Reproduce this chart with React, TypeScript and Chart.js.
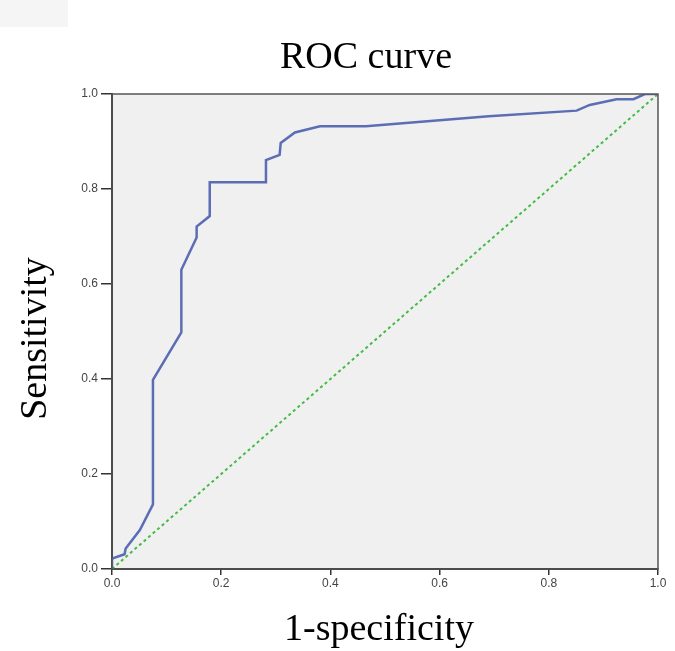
import React, { useEffect, useRef } from "react";
import { Chart, registerables } from "chart.js";

Chart.register(...registerables);

const titleText = "ROC curve";
const xTitle = "1-specificity";
const yTitle = "Sensitivity";

const rocX = [0, 0, 0.023, 0.025, 0.051, 0.075, 0.075, 0.127, 0.127, 0.155, 0.155, 0.179, 0.179, 0.282, 0.282, 0.307, 0.309, 0.335, 0.381, 0.465, 0.69, 0.851, 0.875, 0.924, 0.955, 0.976, 1.0];
const rocY = [0, 0.022, 0.031, 0.043, 0.082, 0.136, 0.398, 0.498, 0.63, 0.698, 0.721, 0.743, 0.814, 0.814, 0.861, 0.872, 0.897, 0.919, 0.932, 0.932, 0.953, 0.965, 0.977, 0.989, 0.989, 1.0, 1.0];

const refX = [0, 1];
const refY = [0, 1];

const tickValues = [0, 0.2, 0.4, 0.6, 0.8, 1.0];

export default function App() {
  const ref = useRef<HTMLCanvasElement | null>(null);

  useEffect(() => {
    if (!ref.current) return;
    const framePlugin = {
      id: "frame",
      beforeDraw(chart: any) {
        const { ctx, chartArea } = chart;
        ctx.save();
        ctx.fillStyle = "#f5f5f5";
        ctx.fillRect(0, 0, 68, 27);
        ctx.fillStyle = "#f0f0f0";
        ctx.fillRect(chartArea.left, chartArea.top, chartArea.right - chartArea.left, chartArea.bottom - chartArea.top);
        ctx.restore();
      },
      afterDraw(chart: any) {
        const { ctx, chartArea } = chart;
        ctx.save();
        ctx.strokeStyle = "#555";
        ctx.lineWidth = 1.5;
        ctx.strokeRect(chartArea.left, chartArea.top, chartArea.right - chartArea.left, chartArea.bottom - chartArea.top);

        const midX = (chartArea.left + chartArea.right) / 2;
        const midY = (chartArea.top + chartArea.bottom) / 2;
        ctx.fillStyle = "#000";
        ctx.font = "38px 'Liberation Serif'";
        ctx.textAlign = "center";
        ctx.textBaseline = "alphabetic";
        ctx.fillText(titleText, midX - 19, chartArea.top - 26);
        ctx.fillText(xTitle, midX - 6, chartArea.bottom + 71);
        ctx.translate(46, midY + 7);
        ctx.rotate(-Math.PI / 2);
        ctx.fillText(yTitle, 0, 0);
        ctx.restore();
      },
    };

    const chart = new Chart(ref.current, {
      type: "scatter",
      data: {
        datasets: [
          {
            label: "ROC",
            data: rocX.map((x, i) => ({ x, y: rocY[i] })),
            showLine: true,
            borderColor: "#5b6db5",
            borderWidth: 2.5,
            pointRadius: 0,
            tension: 0,
          },
          {
            label: "Reference",
            data: refX.map((x, i) => ({ x, y: refY[i] })),
            showLine: true,
            borderColor: "#44bb44",
            borderWidth: 2,
            borderDash: [3, 3],
            pointRadius: 0,
          },
        ],
      },
      options: {
        responsive: false,
        animation: false,
        devicePixelRatio: 1,
        layout: { padding: { left: 0, right: 17, top: 94, bottom: 0 } },
        plugins: {
          legend: { display: false },
          tooltip: { enabled: false },
          title: { display: false },
        },
        scales: {
          x: {
            type: "linear",
            min: 0,
            max: 1,
            afterFit(scale: any) {
              scale.height = 82;
            },
            afterBuildTicks(scale: any) {
              scale.ticks = tickValues.map((v) => ({ value: v }));
            },
            ticks: {
              color: "#444",
              padding: 1,
              font: { family: "Liberation Sans", size: 12 },
              callback: (v: any) => Number(v).toFixed(1),
              maxRotation: 0,
            },
            grid: { drawOnChartArea: false, drawTicks: true, tickLength: 6, color: "#333", lineWidth: 1.5 },
            border: { color: "#333", width: 2 },
          },
          y: {
            type: "linear",
            min: 0,
            max: 1,
            afterFit(scale: any) {
              scale.width = 112;
            },
            afterBuildTicks(scale: any) {
              scale.ticks = tickValues.map((v) => ({ value: v }));
            },
            ticks: {
              color: "#444",
              padding: 3,
              font: { family: "Liberation Sans", size: 12 },
              callback: (v: any) => Number(v).toFixed(1),
            },
            grid: { drawOnChartArea: false, drawTicks: true, tickLength: 11, color: "#333", lineWidth: 1.5 },
            border: { color: "#333", width: 2 },
          },
        },
      },
      plugins: [framePlugin],
    });
    return () => chart.destroy();
  }, []);

  return (
    <div style={{ position: "fixed", left: 0, top: 0, width: 675, height: 651, background: "#fff" }}>
      <canvas ref={ref} width={675} height={651} style={{ display: "block" }} />
    </div>
  );
}
